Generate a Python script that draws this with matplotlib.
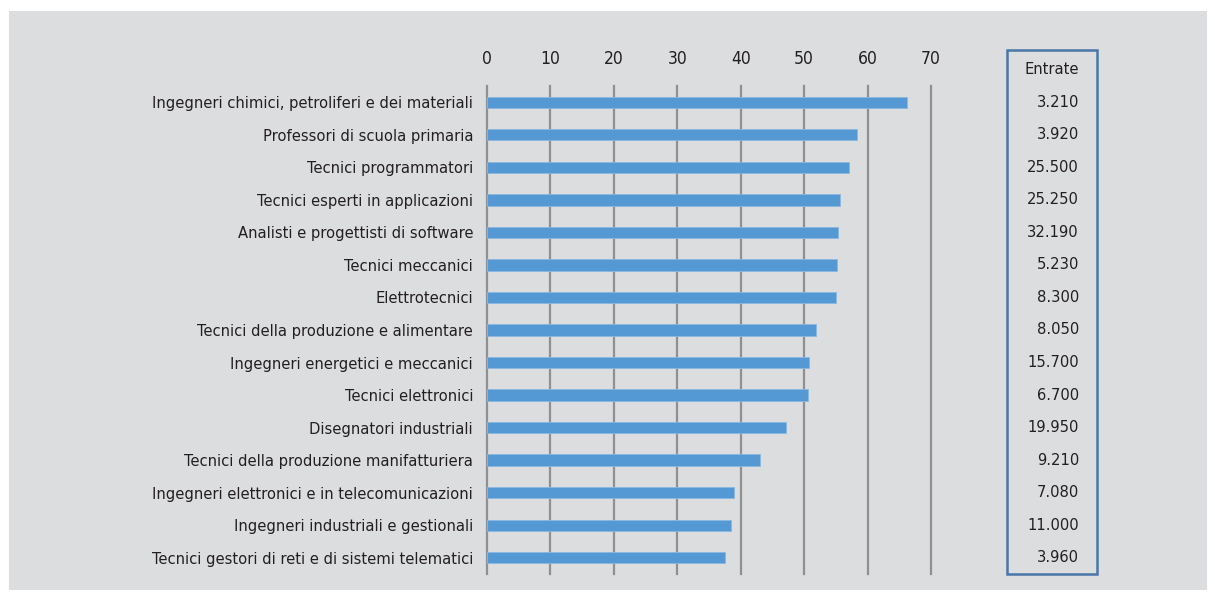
import matplotlib.pyplot as plt
from matplotlib.patches import Rectangle
from matplotlib.transforms import blended_transform_factory

professioni = [
    "Ingegneri chimici, petroliferi e dei materiali",
    "Professori di scuola primaria",
    "Tecnici programmatori",
    "Tecnici esperti in applicazioni",
    "Analisti e progettisti di software",
    "Tecnici meccanici",
    "Elettrotecnici",
    "Tecnici della produzione e alimentare",
    "Ingegneri energetici e meccanici",
    "Tecnici elettronici",
    "Disegnatori industriali",
    "Tecnici della produzione manifatturiera",
    "Ingegneri elettronici e in telecomunicazioni",
    "Ingegneri industriali e gestionali",
    "Tecnici gestori di reti e di sistemi telematici",
]
valori = [66.2, 58.4, 57.0, 55.7, 55.4, 55.2, 55.0, 51.9, 50.8, 50.6,
          47.1, 43.0, 38.9, 38.4, 37.6]
entrate = ["3.210", "3.920", "25.500", "25.250", "32.190", "5.230", "8.300",
           "8.050", "15.700", "6.700", "19.950", "9.210", "7.080", "11.000",
           "3.960"]
xticks = [0, 10, 20, 30, 40, 50, 60, 70]

plt.rcParams['font.family'] = ['DejaVu Sans']
plt.rcParams['font.stretch'] = 'condensed'
testo = '#231f20'
grigio = '#8f9094'

fig = plt.figure(figsize=(12.15, 5.94), dpi=100)
fig.patch.set_facecolor('white')
# pannello grigio di sfondo
fig.patches.append(Rectangle((9 / 1215, 4 / 594), 1198 / 1215, 579 / 594,
                             transform=fig.transFigure, facecolor='#dcdddf',
                             edgecolor='none', zorder=-10))

ax = fig.add_axes([487 / 1215, 20 / 594, 444 / 1215, 488 / 594])
ax.set_zorder(1)
ax.set_facecolor('none')
y = list(range(len(professioni)))
ax.barh(y, valori, height=0.35, color='#5599d4', edgecolor='#8ab8e2',
        linewidth=0.6, zorder=3)
ax.set_xlim(0, 70)
ax.set_ylim(len(professioni) - 0.5, -0.5)
ax.set_xticks(xticks)
ax.set_yticks(y)
ax.set_yticklabels(professioni)
ax.xaxis.tick_top()
ax.tick_params(axis='x', length=0, pad=13, labelsize=12.5, colors=testo)
ax.tick_params(axis='y', length=0, pad=10, labelsize=11.8, colors=testo)
for s in ax.spines.values():
    s.set_visible(False)
for v in xticks:
    ax.axvline(v, color=grigio, linewidth=1.6, zorder=1, clip_on=False)

# riquadro Entrate
fig.patches.append(Rectangle((1007 / 1215, 20 / 594), 90 / 1215, 524 / 594,
                             transform=fig.transFigure, facecolor='none',
                             edgecolor='#4a76a8', linewidth=1.8, zorder=2))
tr = blended_transform_factory(fig.transFigure, ax.transData)
ax.text(1052 / 1215, -1.02, "Entrate", transform=tr, ha='center', va='center',
        fontsize=11.8, color=testo, clip_on=False)
for i, e in enumerate(entrate):
    ax.text(1079 / 1215, i, e, transform=tr, ha='right', va='center',
            fontsize=11.8, color=testo, clip_on=False)

fig.savefig('out.png', dpi=100, facecolor=fig.get_facecolor())
